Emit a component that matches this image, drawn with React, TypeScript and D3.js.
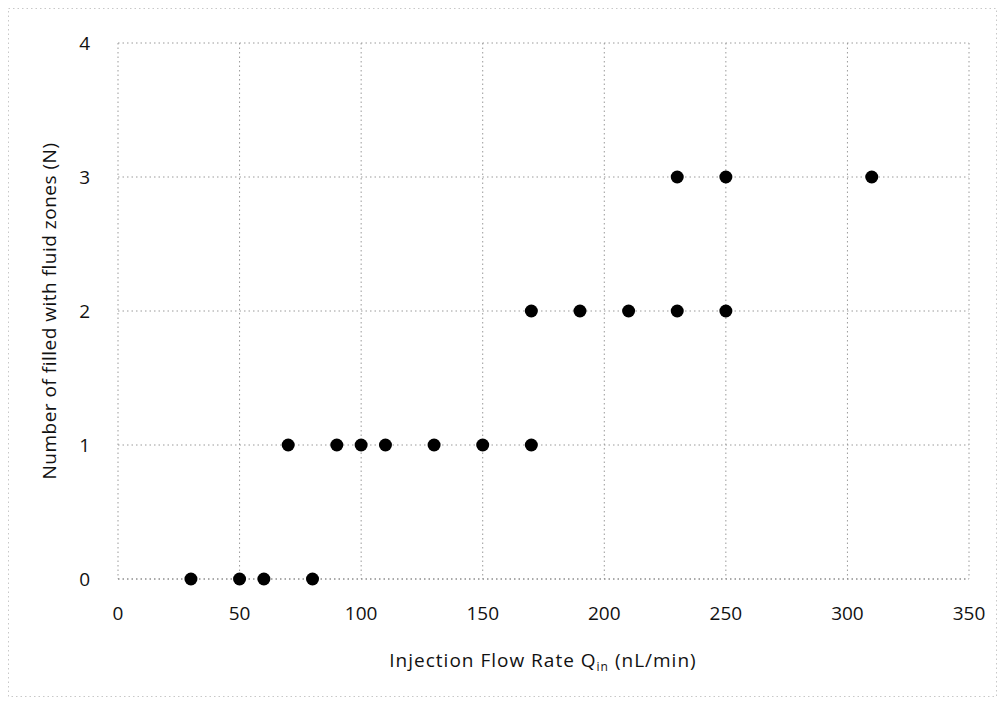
import React from "react";
import * as d3 from "d3";

const xTicks = [0, 50, 100, 150, 200, 250, 300, 350];
const yTicks = [0, 1, 2, 3, 4];
const flowRates = [30, 50, 60, 80, 70, 90, 100, 110, 130, 150, 170, 170, 190, 210, 230, 250, 230, 250, 310];
const zoneCounts = [0, 0, 0, 0, 1, 1, 1, 1, 1, 1, 1, 2, 2, 2, 2, 2, 3, 3, 3];

const W = 1002, H = 702;
const left = 118, right = 969, top = 43, bottom = 579;
const font = "'Open Sans', 'Noto Sans', sans-serif";

export default function App() {
  const x = d3.scaleLinear().domain([0, 350]).range([left, right]);
  const y = d3.scaleLinear().domain([0, 4]).range([bottom, top]);
  const grid = "#9a9a9a";
  return (
    <svg width={W} height={H} style={{ position: "absolute", left: 0, top: 0 }}>
      <rect x={0} y={0} width={W} height={H} fill="#fff" />
      <rect x={8.5} y={8.5} width={988} height={688} fill="none" stroke="#c8c8c8" strokeWidth={1} strokeDasharray="1.5,3" />
      {xTicks.map(t => (
        <line key={"vx" + t} x1={x(t)} x2={x(t)} y1={top} y2={bottom} stroke={grid} strokeWidth={1} strokeDasharray="1.5,3" />
      ))}
      {yTicks.map(t => (
        <line key={"hy" + t} x1={left} x2={right} y1={y(t)} y2={y(t)} stroke={t === 0 ? "#555" : grid} strokeWidth={1} strokeDasharray="1.5,3" />
      ))}
      {xTicks.map(t => (
        <text key={"xl" + t} x={x(t)} y={620} textAnchor="middle" fontFamily={font} fontSize={19} fill="#111">{t}</text>
      ))}
      {yTicks.map(t => (
        <text key={"yl" + t} x={90} y={y(t) + 7} textAnchor="end" fontFamily={font} fontSize={19} fill="#111">{t}</text>
      ))}
      {flowRates.map((q, i) => (
        <circle key={"p" + i} cx={x(q)} cy={y(zoneCounts[i])} r={6.5} fill="#000" />
      ))}
      <text x={543} y={667} textAnchor="middle" fontFamily={font} fontSize={19} letterSpacing={1} fill="#111">
        Injection Flow Rate Q<tspan fontSize={12} dy={4}>in</tspan><tspan dy={-4}> (nL/min)</tspan>
      </text>
      <text transform={`translate(56, 311) rotate(-90)`} textAnchor="middle" fontFamily={font} fontSize={19} letterSpacing={0.5} fill="#111">
        Number of filled with fluid zones (N)
      </text>
    </svg>
  );
}
